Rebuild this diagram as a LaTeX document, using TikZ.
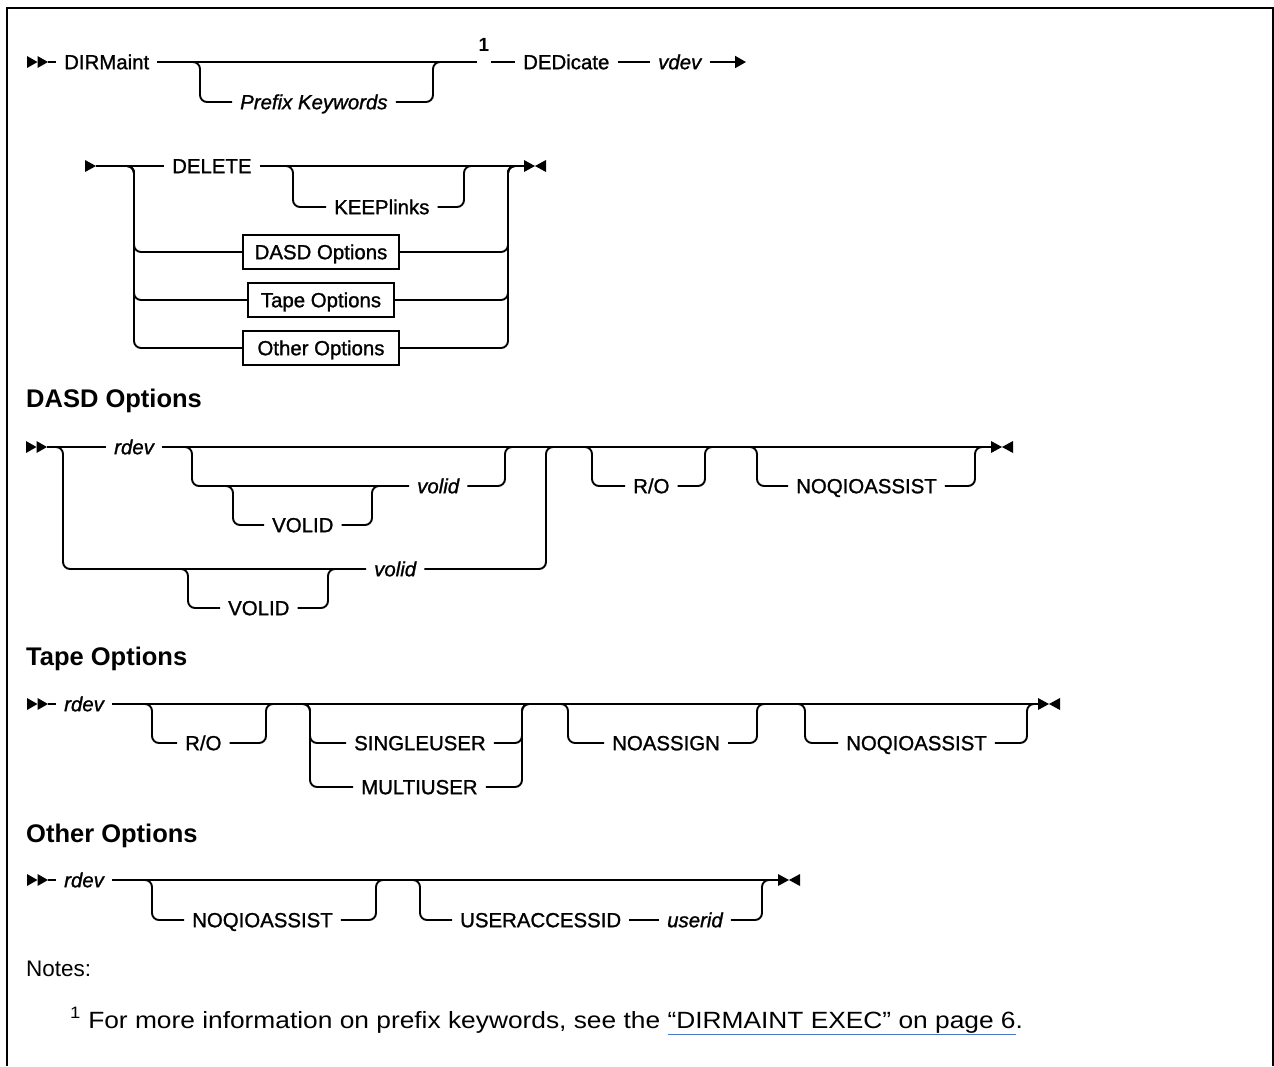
\documentclass[tikz,border=0pt]{standalone}
\usepackage{fontspec}
\setmainfont{Liberation Sans}
\newfontfamily\dfont{Liberation Sans}[FakeBold=1.2]
\newfontfamily\footfont{Liberation Sans}[FakeStretch=1.12]
\usetikzlibrary{arrows.meta}
\definecolor{linkblue}{HTML}{4A78C8}
\newcommand{\lnkul}[1]{{\color{linkblue}$\underline{\hbox{\color{black}#1}}$}}
\tikzset{
  rr/.style={line width=1.9pt, rounded corners=7pt},
  kw/.style={font=\dfont\fontsize{20.4}{24}\selectfont, inner xsep=8pt, inner ysep=0pt, text height=15.4pt, text depth=1pt, anchor=west},
  var/.style={kw, font=\dfont\fontsize{20.4}{24}\selectfont\itshape},
  optbox/.style={draw, line width=1.7pt, font=\dfont\fontsize{20.4}{24}\selectfont, inner xsep=0pt, inner ysep=0pt, text height=15.4pt, text depth=1pt, minimum height=34pt, anchor=center},
  hdr/.style={font=\fontsize{25.5}{30}\selectfont\bfseries, inner sep=0pt, anchor=west, text height=18.6pt, text depth=1pt},
  notetext/.style={font=\footfont\fontsize{23.5}{27}\selectfont, inner sep=0pt, anchor=base west},
  startmark/.pic={\fill (0,-6) -- (10.5,0) -- (0,6) -- cycle; \fill (10.5,-6) -- (21,0) -- (10.5,6) -- cycle;},
  endmark/.pic={\fill (0,-6) -- (11,0) -- (0,6) -- cycle; \fill (22,-6) -- (11,0) -- (22,6) -- cycle;},
  contmark/.pic={\fill (0,-6) -- (11,0) -- (0,6) -- cycle;}
}
\begin{document}
\begin{tikzpicture}[x=1pt,y=-1pt]
\useasboundingbox (0,0) rectangle (1274,1066);
\draw[line width=2pt] (7,1066) -- (7,8) -- (1273,8) -- (1273,1066);

% ---------- Row 1
\coordinate (s1) at (27,62);
\pic at (s1) {startmark};
\node[kw] (dirm) at (56,62) {DIRMaint};
\node[var] (pfx) at (232,102) {Prefix Keywords};
\node[font=\fontsize{19}{22}\selectfont\bfseries, inner sep=0pt] (fn) at (484,45) {1};
\coordinate (fnl) at (477,62);
\coordinate (fnr) at (491,62);
\node[kw] (ded) at (515,62) {DEDicate};
\node[var] (vdev) at (650,62) {vdev};
\coordinate (cont) at (746,62);
\draw[rr] ([xshift=21pt]s1) -- (dirm.west);
\draw[rr] (dirm.east) -- (fnl);
\draw[rr] (fnr) -- (ded.west);
\draw[rr] (ded.east) -- (vdev.west);
\draw[line width=1.9pt, -{Triangle[length=11pt,width=12pt]}] (vdev.east) -- (cont);
\draw[rr] (192,62) -- (200,62) -- (200,102) -- (pfx.west);
\draw[rr] (pfx.east) -- (433,102) -- (433,62) -- (441,62);

% ---------- Row 2
\coordinate (s2) at (85,166);
\pic at (s2) {contmark};
\node[kw] (del) at (164,166) {DELETE};
\node[kw] (keep) at (326,207) {KEEPlinks};
\node[optbox, minimum width=156pt] (dasd) at (321,252) {DASD Options};
\node[optbox, minimum width=146pt] (tape) at (321,300) {Tape Options};
\node[optbox, minimum width=156pt] (other) at (321,348) {Other Options};
\coordinate (e2) at (524,166);
\pic at (e2) {endmark};
\draw[rr] ([xshift=11pt]s2) -- (del.west);
\draw[rr] (del.east) -- (e2);
\draw[rr] (285,166) -- (293,166) -- (293,207) -- (keep.west);
\draw[rr] (keep.east) -- (464,207) -- (464,166) -- (472,166);
\foreach \b/\yy in {dasd/252, tape/300, other/348}{
  \draw[rr] (126,166) -- (134,166) -- (134,\yy) -- (\b.west);
  \draw[rr] (\b.east) -- (508,\yy) -- (508,166) -- (516,166);
}

% ---------- DASD Options
\node[hdr] (hdasd) at (26,399) {DASD Options};
\coordinate (s3) at (26,447);
\pic at (s3) {startmark};
\node[var] (rdev1) at (106,447) {rdev};
\node[var] (volA) at (409,486) {volid};
\node[kw] (VOLB) at (264,525) {VOLID};
\node[var] (volL) at (366,569) {volid};
\node[kw] (VOLC) at (220,608) {VOLID};
\node[kw] (ro1) at (625,486) {R/O};
\node[kw] (nq1) at (788,486) {NOQIOASSIST};
\coordinate (e3) at (991,447);
\pic at (e3) {endmark};
\draw[rr] ([xshift=21pt]s3) -- (rdev1.west);
\draw[rr] (rdev1.east) -- (e3);
\draw[rr] (184,447) -- (192,447) -- (192,486) -- (volA.west);
\draw[rr] (volA.east) -- (505,486) -- (505,447) -- (513,447);
\draw[rr] (225,486) -- (233,486) -- (233,525) -- (VOLB.west);
\draw[rr] (VOLB.east) -- (372,525) -- (372,486) -- (380,486);
\draw[rr] (55,447) -- (63,447) -- (63,569) -- (volL.west);
\draw[rr] (volL.east) -- (546,569) -- (546,447) -- (554,447);
\draw[rr] (180,569) -- (188,569) -- (188,608) -- (VOLC.west);
\draw[rr] (VOLC.east) -- (328,608) -- (328,569) -- (336,569);
\draw[rr] (584,447) -- (592,447) -- (592,486) -- (ro1.west);
\draw[rr] (ro1.east) -- (705,486) -- (705,447) -- (713,447);
\draw[rr] (749,447) -- (757,447) -- (757,486) -- (nq1.west);
\draw[rr] (nq1.east) -- (975,486) -- (975,447) -- (983,447);

% ---------- Tape Options
\node[hdr] (htape) at (26,657) {Tape Options};
\coordinate (s4) at (27,704);
\pic at (s4) {startmark};
\node[var] (rdev2) at (56,704) {rdev};
\node[kw] (ro2) at (177,743) {R/O};
\node[kw] (su) at (346,743) {SINGLEUSER};
\node[kw] (mu) at (353,787) {MULTIUSER};
\node[kw] (na) at (604,743) {NOASSIGN};
\node[kw] (nq2) at (838,743) {NOQIOASSIST};
\coordinate (e4) at (1038,704);
\pic at (e4) {endmark};
\draw[rr] ([xshift=21pt]s4) -- (rdev2.west);
\draw[rr] (rdev2.east) -- (e4);
\draw[rr] (144,704) -- (152,704) -- (152,743) -- (ro2.west);
\draw[rr] (ro2.east) -- (266,743) -- (266,704) -- (274,704);
\draw[rr] (302,704) -- (310,704) -- (310,743) -- (su.west);
\draw[rr] (su.east) -- (522,743) -- (522,704) -- (530,704);
\draw[rr] (302,704) -- (310,704) -- (310,787) -- (mu.west);
\draw[rr] (mu.east) -- (522,787) -- (522,704) -- (530,704);
\draw[rr] (560,704) -- (568,704) -- (568,743) -- (na.west);
\draw[rr] (na.east) -- (757,743) -- (757,704) -- (765,704);
\draw[rr] (797,704) -- (805,704) -- (805,743) -- (nq2.west);
\draw[rr] (nq2.east) -- (1027,743) -- (1027,704) -- (1035,704);

% ---------- Other Options
\node[hdr] (hother) at (26,834) {Other Options};
\coordinate (s5) at (27,880);
\pic at (s5) {startmark};
\node[var] (rdev3) at (56,880) {rdev};
\node[kw] (nq3) at (184,920) {NOQIOASSIST};
\node[kw] (uaid) at (452,920) {USERACCESSID};
\node[var] (uid) at (659,920) {userid};
\coordinate (e5) at (778,880);
\pic at (e5) {endmark};
\draw[rr] ([xshift=21pt]s5) -- (rdev3.west);
\draw[rr] (rdev3.east) -- (e5);
\draw[rr] (144,880) -- (152,880) -- (152,920) -- (nq3.west);
\draw[rr] (nq3.east) -- (376,920) -- (376,880) -- (384,880);
\draw[rr] (412,880) -- (420,880) -- (420,920) -- (uaid.west);
\draw[rr] (uaid.east) -- (uid.west);
\draw[rr] (uid.east) -- (762,920) -- (762,880) -- (770,880);

% ---------- Notes
\node[notetext, font=\fontsize{22.5}{27}\selectfont] (notes) at (26,976) {Notes:};
\node[notetext] (fnote) at (70,1028) {\textsuperscript{1} For more information on prefix keywords, see the \lnkul{“DIRMAINT EXEC” on page 6}.};
\end{tikzpicture}
\end{document}
